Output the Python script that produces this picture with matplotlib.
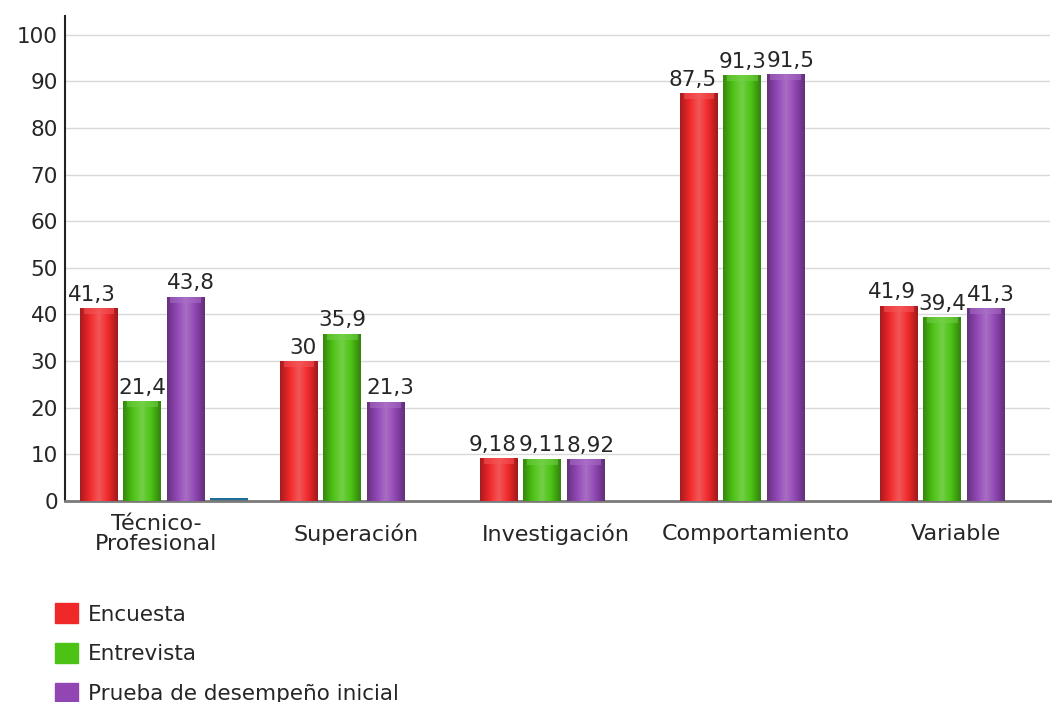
import numpy as np
import matplotlib
matplotlib.use("Agg")
import matplotlib.pyplot as plt
from matplotlib.colors import to_rgb, LinearSegmentedColormap

# datos del grafico
categorias = ["Técnico-\nProfesional", "Superación", "Investigación", "Comportamiento", "Variable"]
encuesta = [41.3, 30, 9.18, 87.5, 41.9]
entrevista = [21.4, 35.9, 9.11, 91.3, 39.4]
prueba = [43.8, 21.3, 8.92, 91.5, 41.3]
extra = [0.7, 0, 0, 0, 0]  # barra azul sin leyenda en el primer grupo

series = ["Encuesta", "Entrevista", "Prueba de desempeño inicial"]
colores = ["#f0282a", "#4cc214", "#9146b4"]
color_extra = "#1d6e9a"

plt.rcParams['font.family'] = ['DejaVu Sans']
texto = "#262626"

fig = plt.figure(figsize=(10.54, 7.02), dpi=100)
ax = fig.add_axes([65 / 1054, 1 - 501 / 702, 985 / 1054, 485 / 702])

x = np.arange(len(categorias))
ancho = 0.19
paso = 0.2165
offsets = [-1.5 * paso, -0.5 * paso, 0.5 * paso, 1.5 * paso]


def sombrear(barras, color):
    # degradado horizontal para dar efecto de cilindro
    base = np.array(to_rgb(color))
    oscuro = base * 0.7
    claro = base + (1 - base) * 0.22
    cmap = LinearSegmentedColormap.from_list("c", [oscuro, base, claro, base, oscuro * 0.95])
    grad = np.linspace(0, 1, 64).reshape(1, -1)
    for b in barras:
        h = b.get_height()
        if h <= 0:
            continue
        x0 = b.get_x()
        im = ax.imshow(grad, cmap=cmap, aspect="auto", extent=(x0, x0 + b.get_width(), 0, h),
                       zorder=3, interpolation="bicubic")
        im.set_clip_path(b)
        # tapa superior mas clara
        tope = min(1.3, h)
        ax.add_patch(plt.Rectangle((x0 + b.get_width() * 0.1, h - tope), b.get_width() * 0.8, tope,
                                   color=claro, alpha=0.55, zorder=4, lw=0))


def fmt(v):
    return f"{v:g}".replace(".", ",")


# la etiqueta de la primera serie se alinea a la derecha y la de la tercera a la izquierda
alineacion = ["right", "center", "left"]
for i, (vals, nombre, col, off) in enumerate(zip([encuesta, entrevista, prueba], series, colores, offsets)):
    barras = ax.bar(x + off, vals, ancho, color=col, label=nombre, zorder=2)
    sombrear(barras, col)
    for b, v in zip(barras, vals):
        ha = alineacion[i]
        if ha == "right":
            xt = b.get_x() + b.get_width() * 0.95
        elif ha == "left":
            xt = b.get_x()
        else:
            xt = b.get_x() + b.get_width() / 2
        ax.text(xt, v + 0.7, fmt(v), ha=ha, va="bottom",
                fontsize=15.5, color=texto, zorder=5)

barras_extra = ax.bar(x + offsets[3], extra, ancho, color=color_extra, zorder=2)

ax.set_xlim(-0.495, 4.43)
ax.set_ylim(0, 104)
ax.set_yticks(np.arange(0, 101, 10))
ax.set_xticks(x - 0.04)
ax.set_xticklabels(categorias, fontsize=16, color=texto, linespacing=1.0)
for t in ax.get_xticklabels():
    t.set_va("center")
ax.tick_params(axis="y", length=0, labelsize=15.5, labelcolor=texto, pad=5)
ax.tick_params(axis="x", length=0, pad=24)
ax.grid(axis="y", color="#d8d8d8", lw=1, zorder=0)
ax.set_axisbelow(True)

for s in ["top", "right"]:
    ax.spines[s].set_visible(False)
ax.spines["left"].set_color("#222222")
ax.spines["left"].set_linewidth(1.5)
ax.spines["bottom"].set_color("#7a7a7a")
ax.spines["bottom"].set_linewidth(2)

# leyenda debajo
handles = [plt.Rectangle((0, 0), 1, 1, color=c) for c in colores]
fig.legend(handles, series, loc="upper left", bbox_to_anchor=(36 / 1054, 1 - 584 / 702),
           frameon=False, fontsize=15.5, handlelength=1.05, handleheight=1.05,
           handletextpad=0.45, labelspacing=0.85, labelcolor=texto)

fig.savefig("out.png", dpi=100, facecolor="white")
